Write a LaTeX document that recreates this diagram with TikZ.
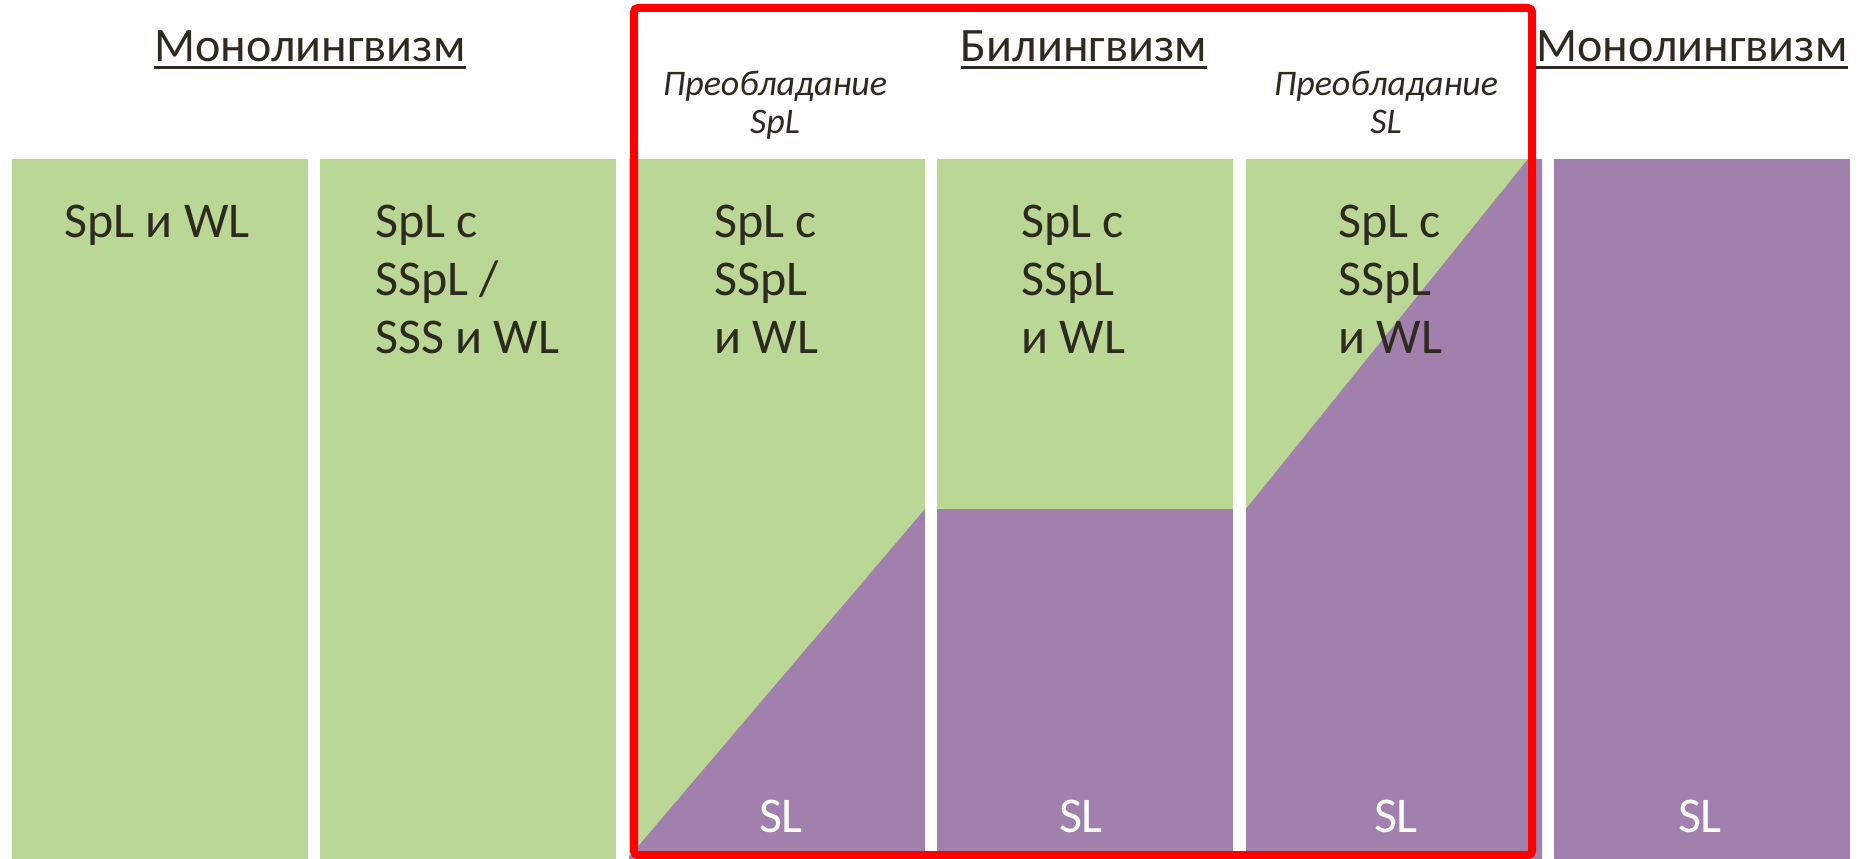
\documentclass[tikz,border=0pt]{standalone}
\usepackage{fontspec}
\setmainfont{Carlito}
\definecolor{leafgreen}{HTML}{BBD795}
\definecolor{plum}{HTML}{A280AE}
\definecolor{ink}{HTML}{2E2A20}
\tikzset{
	head/.style={font=\fontsize{48}{58}\selectfont, text=ink, inner sep=0pt, anchor=base},
	hint/.style={font=\fontsize{36}{38}\selectfont\itshape, text=ink, inner sep=0pt, align=center, anchor=base},
	cell/.style={font=\fontsize{50}{58}\selectfont, text=ink, inner sep=0pt, align=left, anchor=base west},
	sl/.style={font=\fontsize{50}{58}\selectfont, text=white, inner sep=0pt, anchor=base},
}
\begin{document}
\begin{tikzpicture}[x=1pt,y=-1pt]
				\useasboundingbox (0,0) rectangle (1860,859);
				\coordinate (A) at (629,857);
				\coordinate (B) at (925,509);
				\coordinate (C) at (1246,509);
				\coordinate (D) at (1528,159);
				\fill[leafgreen] (12,159) rectangle (308,859);
				\fill[leafgreen] (320,159) rectangle (616,859);
				\fill[leafgreen] (629,159) rectangle (925,859);
				\fill[plum] (A) -- (B) -- (925,859) -- (629,859) -- cycle;
				\fill[leafgreen] (937,159) rectangle (1233,859);
				\fill[plum] (937,509) rectangle (1233,859);
				\fill[leafgreen] (1246,159) rectangle (1542,859);
				\fill[plum] (C) -- (D) -- (1542,159) -- (1542,859) -- (1246,859) -- cycle;
				\fill[plum] (1554,159) rectangle (1850,859);
				\draw[red, line width=8, rounded corners=4] (634,8) rectangle (1532,855);
				\node[head] (mono1) at (310,62) {Монолингвизм};
				\node[head] (bi) at (1084,62) {Билингвизм};
				\node[head] (mono2) at (1692,62) {Монолингвизм};
				\foreach \t in {mono1,bi,mono2}
					\draw[ink, line width=3] ([yshift=-6pt]\t.base west) -- ([yshift=-6pt]\t.base east);
				\node[hint] (domspl) at (775,133) {Преобладание\\SpL};
				\node[hint] (domsl) at (1386,133) {Преобладание\\SL};
				\node[cell] (c1) at (64,237) {SpL и WL};
				\node[cell] (c2) at (375,353) {SpL с\\SSpL /\\SSS и WL};
				\node[cell] (c3) at (714,353) {SpL с\\SSpL\\и WL};
				\node[cell] (c4) at (1021,353) {SpL с\\SSpL\\и WL};
				\node[cell] (c5) at (1338,353) {SpL с\\SSpL\\и WL};
				\node[sl] (sl3) at (781,832) {SL};
				\node[sl] (sl4) at (1081,832) {SL};
				\node[sl] (sl5) at (1396,832) {SL};
				\node[sl] (sl6) at (1700,832) {SL};
\end{tikzpicture}
\end{document}
